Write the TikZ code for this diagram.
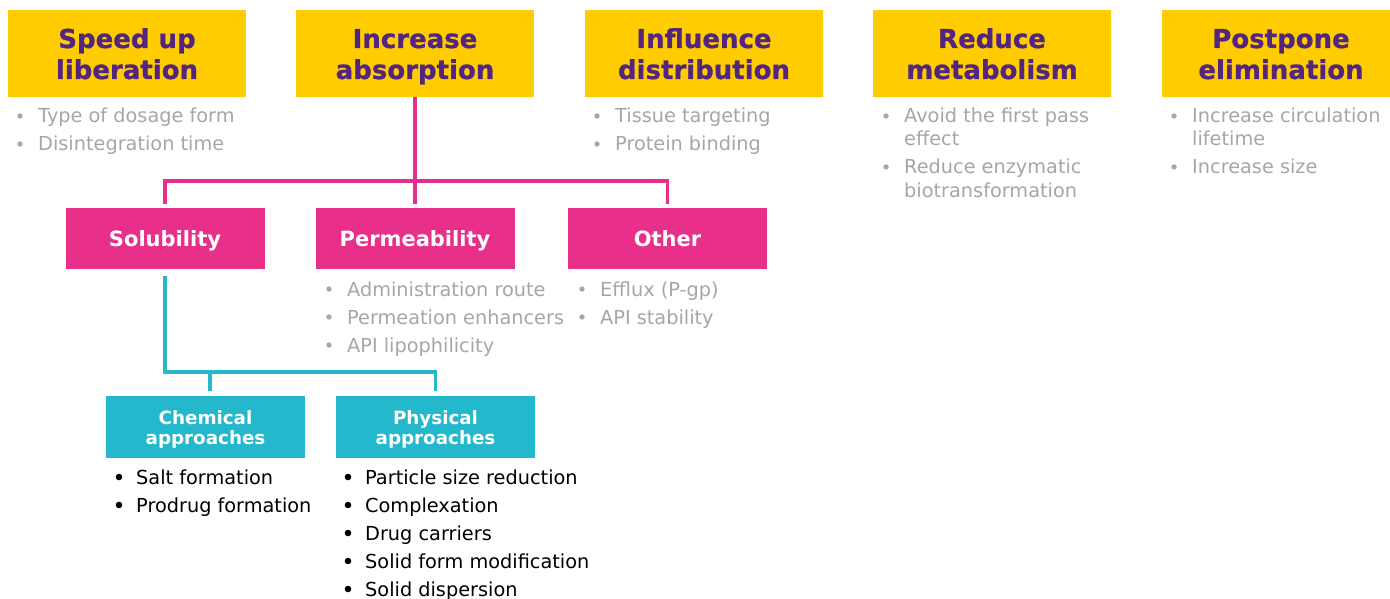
\documentclass[tikz,border=0pt]{standalone}
\usepackage{fontspec}
\setmainfont{DejaVu Sans}
\newfontfamily\heavyfont{DejaVu Sans Bold}[FakeBold=0.8]
\definecolor{cyel}{HTML}{FFCC00}
\definecolor{cpur}{HTML}{52267F}
\definecolor{cpink}{HTML}{E8308A}
\definecolor{cteal}{HTML}{24B8CC}
\definecolor{cgray}{HTML}{A6A6A6}
\newcommand\gitem[4]{%
  \fill[cgray] (#2-18,#3-7) circle (2.7pt);
  \node[lt,text=cgray] (#1) at (#2,#3) {#4};}
\newcommand\gcont[4]{%
  \node[lt,text=cgray] (#1) at (#2,#3) {#4};}
\newcommand\kitem[4]{%
  \fill[black] (#2-17,#3-7) circle (3.3pt);
  \node[lt,text=black] (#1) at (#2,#3) {#4};}
\newcommand\twolines[2]{#1\strut\\#2\strut}
\begin{document}
\begin{tikzpicture}[x=1pt,y=-1pt,
  ybox/.style={fill=cyel, minimum width=238pt, minimum height=87pt, inner sep=0pt, outer sep=0pt},
  yhead/.style={text=cpur, font=\heavyfont\fontsize{26}{31}\selectfont, align=center, inner sep=0pt},
  pbox/.style={fill=cpink, minimum width=199pt, minimum height=61pt, inner sep=0pt, outer sep=0pt,
    text=white, font=\bfseries\fontsize{21}{24}\selectfont, text height=16pt, text depth=0pt},
  tbox/.style={fill=cteal, minimum width=199pt, minimum height=62pt, inner sep=0pt, outer sep=0pt},
  thead/.style={text=white, font=\bfseries\fontsize{18.3}{20}\selectfont, align=center, inner sep=0pt},
  lt/.style={font=\fontsize{19.3}{23}\selectfont, inner sep=0pt, anchor=base west},
  pline/.style={draw=cpink, line width=3.5pt},
  tline/.style={draw=cteal, line width=3.5pt},
]
\useasboundingbox (0,0) rectangle (1390,599);
% top boxes
\node[ybox] (lib) at (127,53.5) {};
\node[yhead] (libt) at (127,57.3) {\twolines{Speed up}{liberation}};
\node[ybox] (abs) at (415,53.5) {};
\node[yhead] (abst) at (415,57.3) {\twolines{Increase}{absorption}};
\node[ybox] (dis) at (704,53.5) {};
\node[yhead] (dist) at (704,57.3) {\twolines{Influence}{distribution}};
\node[ybox] (met) at (992,53.5) {};
\node[yhead] (mett) at (992,57.3) {\twolines{Reduce}{metabolism}};
\node[ybox] (eli) at (1281,53.5) {};
\node[yhead] (elit) at (1281,57.3) {\twolines{Postpone}{elimination}};
% pink boxes
\node[pbox] (sol) at (165,238.5) {Solubility};
\node[pbox] (per) at (415,238.5) {Permeability};
\node[pbox] (oth) at (667.5,238.5) {Other};
% teal boxes
\node[tbox] (chem) at (205.5,427) {};
\node[thead] (chemt) at (205.5,430) {\twolines{Chemical}{approaches}};
\node[tbox] (phys) at (435.5,427) {};
\node[thead] (physt) at (435.5,430) {\twolines{Physical}{approaches}};
% pink connectors
\coordinate (pbar) at (0,181);
\draw[pline] (abs.south) -- (abs.south |- pbar);
\draw[pline, shorten >=4pt] (abs.south |- pbar) -- (per.north);
\draw[pline, shorten <=4pt, shorten >=4pt] (sol.north) |- (pbar -| abs.south) -| (oth.north);
% teal connectors
\coordinate (tbar) at (0,372);
\coordinate (cj) at (210,372);
\draw[tline, shorten <=6.5pt, shorten >=5pt] (sol.south) |- (tbar -| phys.north) -- (phys.north);
\draw[tline, shorten >=5pt] (cj) -- (cj |- chem.north);
% grey lists
\gitem{l1}{38}{123}{Type of dosage form}
\gitem{l2}{38}{151}{Disintegration time}
\gitem{d1}{615}{123}{Tissue targeting}
\gitem{d2}{615}{151}{Protein binding}
\gitem{m1}{904}{123}{Avoid the first pass}
\gcont{m1b}{904}{146}{effect}
\gitem{m2}{904}{174}{Reduce enzymatic}
\gcont{m2b}{904}{197}{biotransformation}
\gitem{e1}{1192}{123}{Increase circulation}
\gcont{e1b}{1192}{146}{lifetime}
\gitem{e2}{1192}{174}{Increase size}
\gitem{p1}{347}{296}{Administration route}
\gitem{p2}{347}{324}{Permeation enhancers}
\gitem{p3}{347}{352}{API lipophilicity}
\gitem{o1}{600}{296}{Efflux (P-gp)}
\gitem{o2}{600}{324}{API stability}
% black lists
\kitem{c1}{136}{484}{Salt formation}
\kitem{c2}{136}{512}{Prodrug formation}
\kitem{f1}{365}{484}{Particle size reduction}
\kitem{f2}{365}{512}{Complexation}
\kitem{f3}{365}{540}{Drug carriers}
\kitem{f4}{365}{568}{Solid form modification}
\kitem{f5}{365}{596}{Solid dispersion}
\end{tikzpicture}
\end{document}
